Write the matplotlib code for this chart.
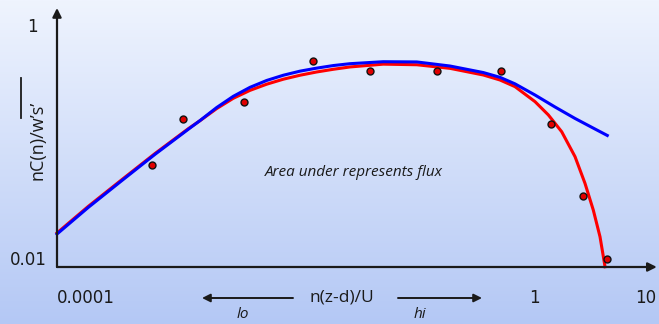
import numpy as np
from matplotlib import pyplot as plt
from matplotlib.lines import Line2D

# measured spectrum points (n(z-d)/U, nC(n)/w's')
obs_x = [3.9e-4, 7.3e-4, 2.6e-3, 0.0106, 0.0343, 0.136, 0.505, 1.42, 2.75, 4.46]
obs_y = [0.065, 0.163, 0.227, 0.51, 0.42, 0.42, 0.42, 0.148, 0.0352, 0.0102]

# curves, as log10 of x and y
blue_lx = [-4.259, -3.979, -3.681, -3.384, -3.087, -2.982, -2.833, -2.685, -2.536,
           -2.387, -2.238, -2.089, -1.940, -1.792, -1.643, -1.346, -1.047, -0.750,
           -0.453, -0.304, -0.170, 0.009, 0.188, 0.366, 0.545, 0.654]
blue_ly = [-1.777, -1.548, -1.319, -1.093, -0.878, -0.803, -0.691, -0.595, -0.518,
           -0.459, -0.414, -0.379, -0.353, -0.331, -0.315, -0.298, -0.300, -0.335,
           -0.391, -0.432, -0.488, -0.584, -0.687, -0.785, -0.876, -0.931]

red_lx = [-4.259, -3.979, -3.681, -3.384, -3.087, -2.982, -2.833, -2.685, -2.536,
          -2.387, -2.238, -2.089, -1.940, -1.792, -1.643, -1.346, -1.047, -0.750,
          -0.453, -0.304, -0.170, 0.009, 0.128, 0.247, 0.366, 0.455, 0.529, 0.589, 0.634]
red_ly = [-1.768, -1.539, -1.311, -1.086, -0.873, -0.804, -0.700, -0.612, -0.544,
          -0.491, -0.448, -0.414, -0.386, -0.363, -0.343, -0.319, -0.324, -0.355,
          -0.412, -0.455, -0.512, -0.641, -0.755, -0.899, -1.113, -1.342, -1.571,
          -1.800, -2.058]

x_ticks = [1e-4, 1, 10]
x_tick_labels = ['0.0001', '1', '10']
y_ticks = [1, 0.01]
y_tick_labels = ['1', '0.01']

W, H = 659, 324
fig = plt.figure(figsize=(W / 100, H / 100), dpi=100)

# background gradient
bg = fig.add_axes([0, 0, 1, 1], zorder=-10)
grad = np.linspace(0, 1, 256).reshape(-1, 1)
top = np.array([239, 244, 254]) / 255
bottom = np.array([180, 200, 245]) / 255
img = top + (bottom - top) * grad[:, :, None]
bg.imshow(img, aspect='auto', extent=[0, 1, 0, 1])
bg.axis('off')

ax = fig.add_axes([57 / W, 57 / H, 598 / W, 259 / H])
ax.patch.set_alpha(0)
ax.set_xscale('log')
ax.set_yscale('log')
ax.set_xlim(10 ** -4.259, 10 ** 1.080)
ax.set_ylim(10 ** -2.060, 10 ** 0.163)
for s in ax.spines.values():
    s.set_visible(False)

ax.plot(np.power(10.0, red_lx), np.power(10.0, red_ly), color='#ff0000', lw=2.2,
        solid_joinstyle='round', clip_on=False)
ax.plot(np.power(10.0, blue_lx), np.power(10.0, blue_ly), color='#0000ff', lw=2.2,
        solid_joinstyle='round', clip_on=False)
ax.plot(obs_x, obs_y, 'o', color='#e00000', mec='#111111', mew=1.0, ms=5, zorder=5)

# axes with arrow heads
arrow = dict(arrowstyle='-|>', color='#1a1a1a', lw=1.6, mutation_scale=13,
             shrinkA=0, shrinkB=0)
ax.annotate('', xy=(0, 1), xytext=(0, 0), xycoords='axes fraction',
            arrowprops=arrow, annotation_clip=False)
ax.annotate('', xy=(1.003, 0), xytext=(0, 0), xycoords='axes fraction',
            arrowprops=arrow, annotation_clip=False)

ax.set_xticks(x_ticks)
ax.set_xticklabels(x_tick_labels, fontsize=12, color='#1a1a1a')
ax.tick_params(axis='x', which='both', length=0, pad=16)
ax.xaxis.set_minor_locator(plt.NullLocator())
ax.set_yticks([])
ax.yaxis.set_minor_locator(plt.NullLocator())
ax.text(-0.0418, y_ticks[0], y_tick_labels[0], transform=ax.get_yaxis_transform(),
        ha='center', va='center', fontsize=12, color='#1a1a1a')
ax.text(-0.0485, y_ticks[1], y_tick_labels[1], transform=ax.get_yaxis_transform(),
        ha='center', va='center', fontsize=12, color='#1a1a1a')

# y label with overline on w's'
fig.text(37.5 / W, (H - 140) / H, 'nC(n)/w\u2019s\u2019', rotation=90,
         ha='center', va='center', fontsize=13, family='Open Sans', color='#1a1a1a')
fig.add_artist(Line2D([20.7 / W, 20.7 / W], [(H - 118) / H, (H - 78) / H],
                      color='#1a1a1a', lw=1.3))

# x label with lo/hi arrows
fig.text(342 / W, (H - 298) / H, 'n(z-d)/U', ha='center', va='center',
         fontsize=12.5, family='Open Sans', color='#1a1a1a')
harrow = dict(arrowstyle='-|>', color='#1a1a1a', lw=1.4, mutation_scale=12,
              shrinkA=0, shrinkB=0)
ax.annotate('', xy=(202 / W, (H - 298) / H), xytext=(293 / W, (H - 298) / H),
            xycoords='figure fraction', arrowprops=harrow, annotation_clip=False)
ax.annotate('', xy=(482 / W, (H - 298) / H), xytext=(398 / W, (H - 298) / H),
            xycoords='figure fraction', arrowprops=harrow, annotation_clip=False)
fig.text(243 / W, (H - 314) / H, 'lo', ha='center', va='center', fontsize=11,
         style='italic', family='Open Sans', color='#1a1a1a')
fig.text(420 / W, (H - 314) / H, 'hi', ha='center', va='center', fontsize=11,
         style='italic', family='Open Sans', color='#1a1a1a')

fig.text(354 / W, (H - 173) / H, 'Area under represents flux', ha='center', va='center',
         fontsize=11, style='italic', family='Open Sans', color='#1a1a1a')

fig.savefig('out.png', dpi=100)
